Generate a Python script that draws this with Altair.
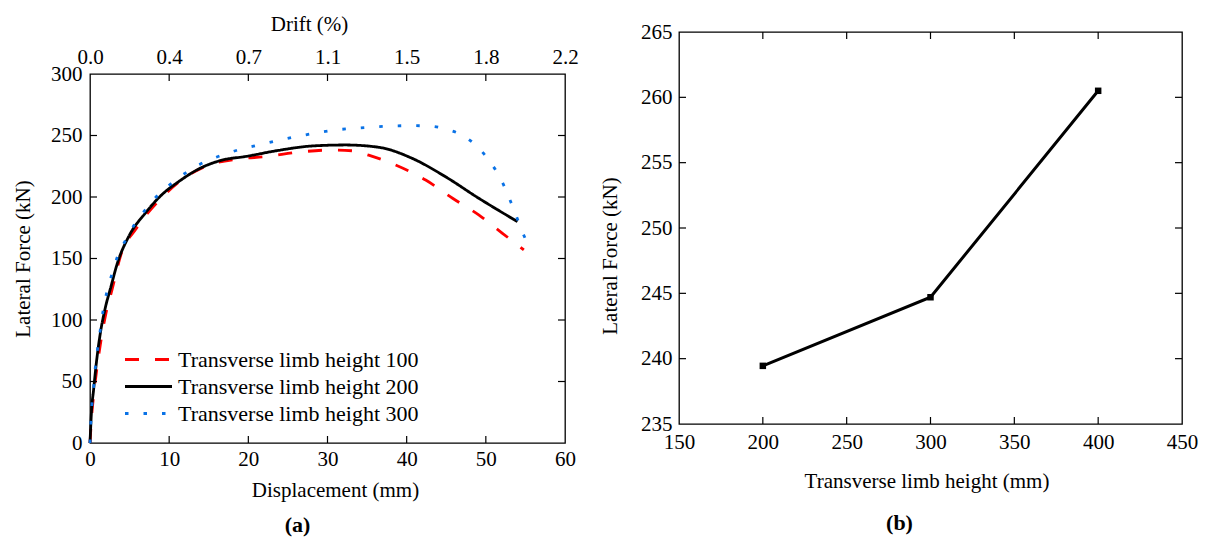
import altair as alt
import pandas as pd

FONT = "Liberation Serif"

# ---------------- data for (a) ----------------
series = ["Transverse limb height 100", "Transverse limb height 200", "Transverse limb height 300"]
colors = ["#ff0000", "#000000", "#0a72e6"]
dashes = [[14, 16], [1, 0], [3.5, 15]]

disp_100 = [0, 0.25, 0.5, 0.9, 1.4, 2.0, 2.8, 3.9, 5.8, 8.7, 11.2, 14.6, 18.8, 22.2, 26.4, 30.6,
            33.1, 35.2, 38.6, 42.4, 45.8, 49.1, 52.1, 54.8]
force_100 = [0, 25, 41, 62, 84, 105, 125, 153, 174, 197, 212, 225, 231, 232.8, 236.5, 238.2,
             237.6, 234, 226, 213.8, 199, 185.4, 170.5, 157]

disp_200 = [0, 0.2, 0.45, 0.8, 1.25, 1.9, 2.6, 3.5, 4.9, 7.0, 9.1, 11.2, 13.8, 16.7, 19.7, 23.9,
            28.1, 32.3, 36.5, 40.7, 44.9, 49.1, 54.0]
force_200 = [0, 27, 43, 65, 87, 109, 126, 147, 168, 187, 202, 212.5, 223, 230, 233, 238,
             241.5, 242.3, 240.4, 231.4, 216.5, 199, 180]

disp_300 = [0, 0.1, 0.24, 0.48, 0.68, 0.97, 1.3, 1.64, 2.1, 2.75, 3.5, 4.5, 5.56, 7.03, 8.5, 10.4,
            12.3, 14.4, 16.7, 19.0, 21.3, 23.7, 26.0, 28.3, 31.0, 33.3, 35.7, 38.2, 40.5, 42.8,
            45.1, 47.2, 49.0, 50.6, 51.9, 52.9, 53.8, 54.6, 55.0]
force_300 = [0, 15.8, 31, 46.7, 62, 77, 92, 107, 122, 137, 152, 165, 177, 190, 201, 211.6,
             220.6, 228.2, 234.1, 238.8, 242.3, 245.8, 249, 251.8, 254.5, 255.8, 256.9, 257.7, 258, 257.7,
             255, 249.6, 240.4, 228, 214.4, 200, 185.4, 171.8, 166]

disp_ticks = [0, 10, 20, 30, 40, 50, 60]
drift_labels = ["0.0", "0.4", "0.7", "1.1", "1.5", "1.8", "2.2"]
force_ticks = [0, 50, 100, 150, 200, 250, 300]

# ---------------- data for (b) ----------------
limb_height = [200, 300, 400]
peak_force = [239.45, 244.7, 260.5]
height_ticks = [150, 200, 250, 300, 350, 400, 450]
peak_ticks = [235, 240, 245, 250, 255, 260, 265]

# ---------------- build tables ----------------
rows = []
for name, xs, ys in zip(series, [disp_100, disp_200, disp_300], [force_100, force_200, force_300]):
    for i, (x, y) in enumerate(zip(xs, ys)):
        rows.append({"series": name, "disp": x, "force": y, "idx": i})
df_a = pd.DataFrame(rows)
df_b = pd.DataFrame({"h": limb_height, "f": peak_force})

W1, H1 = 475, 369
W2, H2 = 503, 392
TL = 7
TW = 1.2
DROP = 42  # vertical offset of panel (a) plot below panel (b) plot

drift_expr = " : ".join(f"datum.value == {v} ? '{lab}'" for v, lab in zip(disp_ticks, drift_labels)) + " : ''"

xs_a = alt.Scale(domain=[0, 60], nice=False, zero=False)
ys_a = alt.Scale(domain=[0, 300], nice=False, zero=False)

legend_a = alt.Legend(
    title=None, orient="none", legendX=45, legendY=272 + DROP, symbolType="M-2,0L2,0",
    symbolSize=552, symbolStrokeWidth=2.8, labelFont=FONT, labelFontSize=22,
    labelColor="black", labelOffset=16, rowPadding=2, padding=0, labelLimit=400,
)

curves = alt.Chart(df_a).mark_line(strokeWidth=2.8, interpolate="monotone").encode(
    x=alt.X("disp:Q", scale=xs_a,
            axis=alt.Axis(values=disp_ticks, title="Displacement (mm)", labelPadding=5,
                          titlePadding=10, titleX=245)),
    y=alt.Y("force:Q", scale=ys_a,
            axis=alt.Axis(values=force_ticks, title="Lateral Force (kN)", labelPadding=8,
                          titlePadding=17)),
    color=alt.Color("series:N", scale=alt.Scale(domain=series, range=colors), legend=legend_a),
    strokeDash=alt.StrokeDash("series:N", scale=alt.Scale(domain=series, range=dashes), legend=legend_a),
    order="idx:Q",
)

xt_a = pd.DataFrame({"v": disp_ticks[1:-1]})
yt_a = pd.DataFrame({"v": force_ticks[1:-1]})

bot_a = alt.Chart(xt_a).mark_rule(color="black", strokeWidth=TW).encode(
    x=alt.X("v:Q", scale=xs_a, axis=None), y=alt.value(H1), y2=alt.value(H1 - TL))
top_a = alt.Chart(xt_a).mark_rule(color="black", strokeWidth=TW).encode(
    x=alt.X("v:Q", scale=xs_a,
            axis=alt.Axis(orient="top", values=disp_ticks, labelExpr=drift_expr, title="Drift (%)",
                          labelPadding=7, titlePadding=12, titleX=219)),
    y=alt.value(0), y2=alt.value(TL))
lft_a = alt.Chart(yt_a).mark_rule(color="black", strokeWidth=TW).encode(
    y=alt.Y("v:Q", scale=ys_a, axis=None), x=alt.value(0), x2=alt.value(TL))
rgt_a = alt.Chart(yt_a).mark_rule(color="black", strokeWidth=TW).encode(
    y=alt.Y("v:Q", scale=ys_a, axis=None), x=alt.value(W1), x2=alt.value(W1 - TL))

left = alt.layer(curves, bot_a, top_a, lft_a, rgt_a).resolve_axis(
    x="independent", y="independent").properties(
    width=W1, height=H1,
    title=alt.TitleParams("(a)", orient="bottom", font=FONT, fontSize=22, fontWeight="bold",
                          color="black", offset=15, dx=-30),
)

# invisible spacer that pushes panel (a) down
spacer = alt.Chart(pd.DataFrame({"s": [0]})).mark_point(opacity=0).encode(
    x=alt.value(0), y=alt.value(0)
).properties(width=W1, height=DROP, view=alt.ViewBackground(stroke="transparent", fill="transparent"))

left_col = alt.vconcat(spacer, left, spacing=0, bounds="flush")

# ---------------- (b) ----------------
xs_b = alt.Scale(domain=[150, 450], nice=False, zero=False)
ys_b = alt.Scale(domain=[235, 265], nice=False, zero=False)

line_b = alt.Chart(df_b).mark_line(color="black", strokeWidth=3).encode(
    x=alt.X("h:Q", scale=xs_b,
            axis=alt.Axis(values=height_ticks, title="Transverse limb height (mm)", labelPadding=7.5,
                          titlePadding=17.5, titleX=247.5)),
    y=alt.Y("f:Q", scale=ys_b,
            axis=alt.Axis(values=peak_ticks, title="Lateral Force (kN)", labelPadding=7,
                          titlePadding=20, titleY=223.5)),
)
pts_b = alt.Chart(df_b).mark_point(shape="square", filled=True, color="black", size=42, opacity=1).encode(
    x=alt.X("h:Q", scale=xs_b, axis=None), y=alt.Y("f:Q", scale=ys_b, axis=None))

xt_b = pd.DataFrame({"v": height_ticks[1:-1]})
yt_b = pd.DataFrame({"v": peak_ticks[1:-1]})

bot_b = alt.Chart(xt_b).mark_rule(color="black", strokeWidth=TW).encode(
    x=alt.X("v:Q", scale=xs_b, axis=None), y=alt.value(H2), y2=alt.value(H2 - TL))
top_b = alt.Chart(xt_b).mark_rule(color="black", strokeWidth=TW).encode(
    x=alt.X("v:Q", scale=xs_b, axis=None), y=alt.value(0), y2=alt.value(TL))
lft_b = alt.Chart(yt_b).mark_rule(color="black", strokeWidth=TW).encode(
    y=alt.Y("v:Q", scale=ys_b, axis=None), x=alt.value(0), x2=alt.value(TL))
rgt_b = alt.Chart(yt_b).mark_rule(color="black", strokeWidth=TW).encode(
    y=alt.Y("v:Q", scale=ys_b, axis=None), x=alt.value(W2), x2=alt.value(W2 - TL))

right = alt.layer(line_b, pts_b, bot_b, top_b, lft_b, rgt_b).resolve_axis(
    x="independent", y="independent").properties(
    width=W2, height=H2,
    title=alt.TitleParams("(b)", orient="bottom", font=FONT, fontSize=22, fontWeight="bold",
                          color="black", offset=22, dx=-31),
)

chart = alt.hconcat(left_col, right, spacing=19).properties(
    padding={"left": 11, "top": 12, "right": 0, "bottom": 0},
    background="white",
).configure_view(
    stroke="black", strokeWidth=1.3
).configure_axis(
    grid=False, domain=False, ticks=False, tickSize=0, labelFlush=False, labelOverlap=False,
    labelFont=FONT, labelFontSize=21, labelColor="black",
    titleFont=FONT, titleFontSize=21, titleColor="black", titleFontWeight="normal",
)

chart.save("out.html", embed_options={"renderer": "svg", "actions": False})
